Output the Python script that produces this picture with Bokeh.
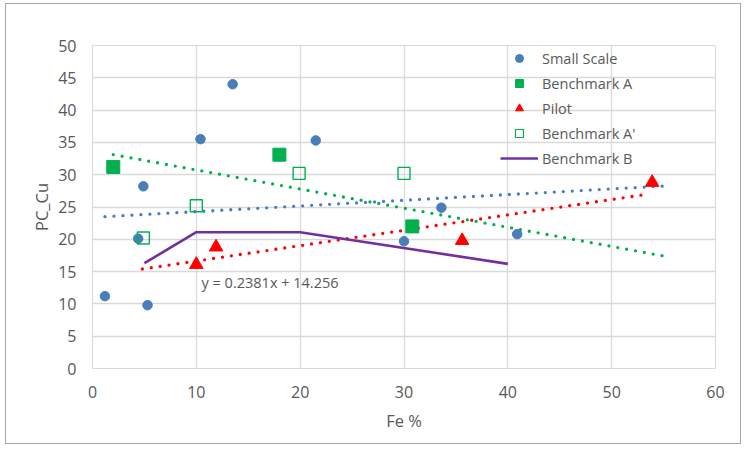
import numpy as np
from bokeh.plotting import figure
from bokeh.models import Legend, LegendItem, Label, FixedTicker, ColumnDataSource
from bokeh.core.properties import value
from bokeh.embed import file_html
from bokeh.resources import INLINE

# ---- data ----
small_x = [1.2, 4.4, 5.3, 4.9, 10.4, 13.5, 21.5, 30.0, 33.6, 40.9]
small_y = [11.2, 20.1, 9.8, 28.2, 35.5, 44.0, 35.3, 19.7, 24.9, 20.8]

benchA_x = [2.0, 18.0, 30.8]
benchA_y = [31.2, 33.1, 22.0]

pilot_x = [10.0, 11.9, 35.6, 53.9]
pilot_y = [16.1, 18.8, 19.8, 28.8]

benchA2_x = [4.9, 10.0, 19.9, 30.0]
benchA2_y = [20.2, 25.2, 30.2, 30.2]

benchB_x = [5.0, 10.0, 20.0, 40.0]
benchB_y = [16.3, 21.1, 21.1, 16.2]

# trendlines: (slope, intercept, x_start, x_end)
trend_small = (0.088, 23.4, 1.2, 55.7)
trend_green = (-0.296, 33.7, 2.0, 55.7)
trend_pilot = (0.2381, 14.256, 4.8, 53.6)
trend_label = "y = 0.2381x  + 14.256"

x_ticks = [0, 10, 20, 30, 40, 50, 60]
y_ticks = [0, 5, 10, 15, 20, 25, 30, 35, 40, 45, 50]

BLUE = "#4a7ebb"
GREEN = "#00b050"
RED = "#ff0000"
PURPLE = "#7030a0"
TXT = "#595959"
GRID = "#d9d9d9"
FONT = "Open Sans"

p = figure(width=736, height=441, x_range=(0, 60), y_range=(0, 50),
           output_backend="svg", toolbar_location=None,
           min_border_left=86, min_border_top=41, min_border_right=27, min_border_bottom=77)
p.styles = {"border": "1px solid #a6a6a6", "margin": "3px 0px 0px 5px"}
p.outline_line_color = GRID
p.background_fill_color = "white"
p.border_fill_color = "white"

for ax in (p.xaxis[0], p.yaxis[0]):
    ax.axis_line_color = GRID
    ax.major_tick_line_color = None
    ax.minor_tick_line_color = None
    ax.major_label_text_color = TXT
    ax.major_label_text_font = FONT
    ax.major_label_text_font_size = "16px"
    ax.axis_label_text_color = TXT
    ax.axis_label_text_font = FONT
    ax.axis_label_text_font_size = "16.5px"
    ax.axis_label_text_font_style = "normal"

p.xaxis.ticker = FixedTicker(ticks=x_ticks)
p.yaxis.ticker = FixedTicker(ticks=y_ticks)
p.xaxis.axis_label = "Fe %"
p.yaxis.axis_label = "PC_Cu"
p.xaxis.major_label_standoff = 11
p.yaxis.major_label_standoff = 10
p.xaxis.axis_label_standoff = 8
p.yaxis.axis_label_standoff = 2

p.xgrid.ticker = FixedTicker(ticks=x_ticks)
p.ygrid.ticker = FixedTicker(ticks=y_ticks)
p.xgrid.grid_line_color = GRID
p.ygrid.grid_line_color = GRID
p.xgrid.grid_line_width = 1.3
p.ygrid.grid_line_width = 1.3

# trendlines
def trend(t):
    m, b, x0, x1 = t
    xs = np.array([x0, x1])
    return xs, m * xs + b

for t, c in ((trend_small, BLUE), (trend_green, GREEN), (trend_pilot, RED)):
    xs, ys = trend(t)
    p.line(xs, ys, line_color=c, line_width=3.3, line_dash="0 9", line_cap="round")

# series
r_b = p.line(benchB_x, benchB_y, line_color=PURPLE, line_width=2.6)
p.scatter(small_x, small_y, marker="circle", size=9.5, fill_color=BLUE, line_color=BLUE)
p.scatter(benchA_x, benchA_y, marker="square", size=13, fill_color=GREEN, line_color=GREEN)
p.scatter(benchA2_x, benchA2_y, marker="square", size=12, fill_color=None,
          line_color=GREEN, line_width=1.4)
p.scatter(pilot_x, pilot_y, marker="triangle", size=13.5, fill_color=RED, line_color=RED)

# legend proxies (smaller markers, nothing drawn on the plot)
nan = ColumnDataSource(data=dict(x=[np.nan], y=[np.nan]))
l_s = p.scatter("x", "y", source=nan, marker="circle", size=7, fill_color=BLUE, line_color=BLUE)
l_a = p.scatter("x", "y", source=nan, marker="square", size=7, fill_color=GREEN, line_color=GREEN)
l_p = p.scatter("x", "y", source=nan, marker="triangle", size=8, fill_color=RED, line_color=RED)
l_a2 = p.scatter("x", "y", source=nan, marker="square", size=7, fill_color=None, line_color=GREEN, line_width=1.2)

legend = Legend(items=[
    LegendItem(label="Small Scale", renderers=[l_s]),
    LegendItem(label="Benchmark A", renderers=[l_a]),
    LegendItem(label="Pilot", renderers=[l_p]),
    LegendItem(label="Benchmark A'", renderers=[l_a2]),
    LegendItem(label="Benchmark B", renderers=[r_b]),
], location=(408, 200))
legend.background_fill_alpha = 0
legend.border_line_color = None
legend.padding = 0
legend.margin = 0
legend.spacing = 5
legend.glyph_width = 38
legend.glyph_height = 20
legend.label_height = 20
legend.label_standoff = 4
legend.label_text_font = FONT
legend.label_text_font_size = "14.5px"
legend.label_text_color = TXT
p.add_layout(legend)

p.add_layout(Label(x=10.5, y=13.3, text=trend_label, text_font=FONT,
                   text_font_size="14.5px", text_color=TXT, text_baseline="middle"))

open("out.html", "w").write(file_html(p, INLINE))
